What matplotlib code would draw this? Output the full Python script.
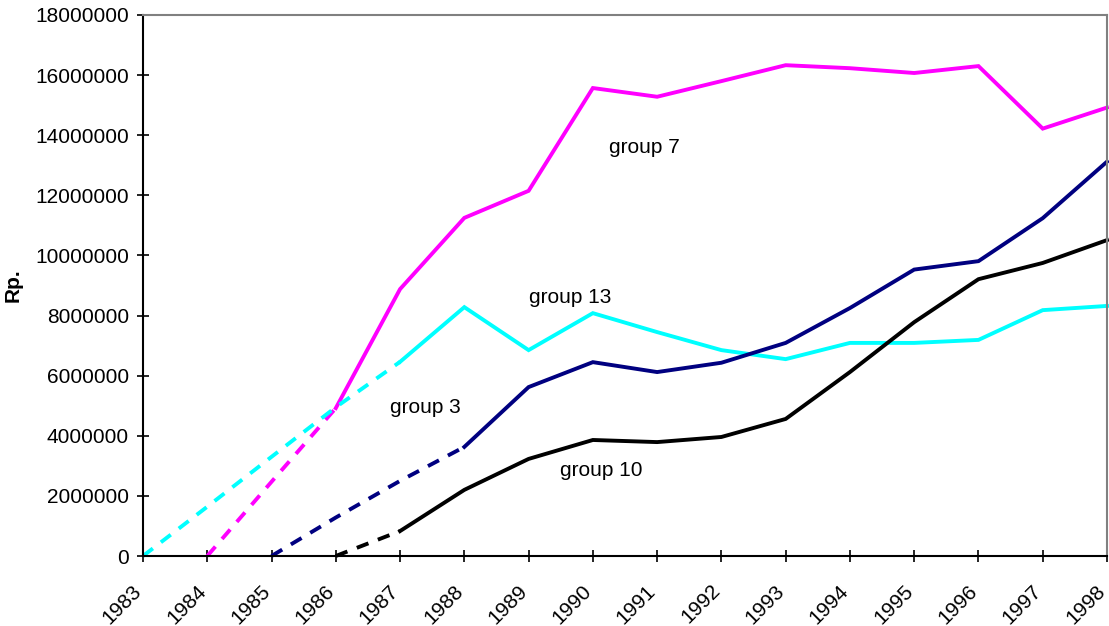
import matplotlib
matplotlib.use("Agg")
import matplotlib.pyplot as plt
from matplotlib.transforms import ScaledTranslation

years = list(range(1983, 1999))

# Observed (solid) series
g7_years = [1986, 1987, 1988, 1989, 1990, 1991, 1992, 1993, 1994, 1995, 1996, 1997, 1998]
g7_vals = [4.92e6, 8.88e6, 11.25e6, 12.15e6, 15.57e6, 15.28e6, 15.80e6, 16.33e6, 16.23e6, 16.07e6, 16.30e6, 14.22e6, 14.92e6]

g13_years = [1987, 1988, 1989, 1990, 1991, 1992, 1993, 1994, 1995, 1996, 1997, 1998]
g13_vals = [6.46e6, 8.28e6, 6.85e6, 8.08e6, 7.45e6, 6.85e6, 6.55e6, 7.09e6, 7.09e6, 7.19e6, 8.18e6, 8.32e6]

g3_years = [1988, 1989, 1990, 1991, 1992, 1993, 1994, 1995, 1996, 1997, 1998]
g3_vals = [3.63e6, 5.62e6, 6.45e6, 6.12e6, 6.43e6, 7.09e6, 8.25e6, 9.53e6, 9.81e6, 11.24e6, 13.12e6]

g10_years = [1987, 1988, 1989, 1990, 1991, 1992, 1993, 1994, 1995, 1996, 1997, 1998]
g10_vals = [0.83e6, 2.20e6, 3.23e6, 3.86e6, 3.79e6, 3.96e6, 4.56e6, 6.12e6, 7.78e6, 9.21e6, 9.75e6, 10.51e6]

# Extrapolated (dashed) lead-in segments
g7_ext_years = [1984, 1985, 1986]
g7_ext_vals = [0, 2.47e6, 4.92e6]
g13_ext_years = [1983, 1984, 1985, 1986, 1987]
g13_ext_vals = [0, 1.64e6, 3.30e6, 4.95e6, 6.46e6]
g3_ext_years = [1985, 1986, 1987, 1988]
g3_ext_vals = [0, 1.28e6, 2.50e6, 3.63e6]
g10_ext_years = [1986, 1987]
g10_ext_vals = [0, 0.83e6]

y_ticks = list(range(0, 18000001, 2000000))

plt.rcParams['font.family'] = ['Liberation Sans', 'DejaVu Sans']

fig = plt.figure(figsize=(11.09, 6.26), dpi=100)
ax = fig.add_axes([143 / 1109, 1 - 556 / 626, (1107 - 143) / 1109, (556 - 15) / 626])

lw = 2.8
dash = (3.2, 2.6)
series = [
    (g7_years, g7_vals, g7_ext_years, g7_ext_vals, '#FF00FF'),
    (g13_years, g13_vals, g13_ext_years, g13_ext_vals, '#00FFFF'),
    (g3_years, g3_vals, g3_ext_years, g3_ext_vals, '#000080'),
    (g10_years, g10_vals, g10_ext_years, g10_ext_vals, '#000000'),
]
for xs, ys, exs, eys, col in series:
    ax.plot(exs, eys, color=col, lw=lw, dashes=dash, dash_capstyle='butt', clip_on=False)
    ax.plot(xs, ys, color=col, lw=lw, solid_joinstyle='miter', clip_on=False)

fs = 15
ax.set_xlim(1983, 1998)
ax.set_ylim(0, 18000000)
ax.set_xticks(years)
ax.set_xticklabels([str(y) for y in years], rotation=45, ha='right', va='top',
                   rotation_mode='anchor', fontsize=fs)
ax.set_yticks(y_ticks)
ax.set_yticklabels([str(v) for v in y_ticks], fontsize=fs)
ax.tick_params(axis='both', direction='inout', length=8, width=1.2, colors='black')
ax.tick_params(axis='y', pad=6)
ax.tick_params(axis='x', pad=9)

shift = ScaledTranslation(-11 / 100, -7 / 100, fig.dpi_scale_trans)
for lab in ax.get_xticklabels():
    lab.set_transform(lab.get_transform() + shift)

for s in ('left', 'bottom'):
    ax.spines[s].set_color('black')
    ax.spines[s].set_linewidth(1.5)
for s in ('top', 'right'):
    ax.spines[s].set_color('#808080')
    ax.spines[s].set_linewidth(1.5)

ax.set_ylabel('Rp.', fontsize=fs, fontweight='bold')
ax.yaxis.set_label_coords(-0.125, 0.5)

ax.text(1990.8, 13.6e6, 'group 7', fontsize=fs, ha='center', va='center')
ax.text(1989.65, 8.6e6, 'group 13', fontsize=fs, ha='center', va='center')
ax.text(1987.4, 4.95e6, 'group 3', fontsize=fs, ha='center', va='center')
ax.text(1990.13, 2.83e6, 'group 10', fontsize=fs, ha='center', va='center')

fig.savefig('out.png', dpi=100)
